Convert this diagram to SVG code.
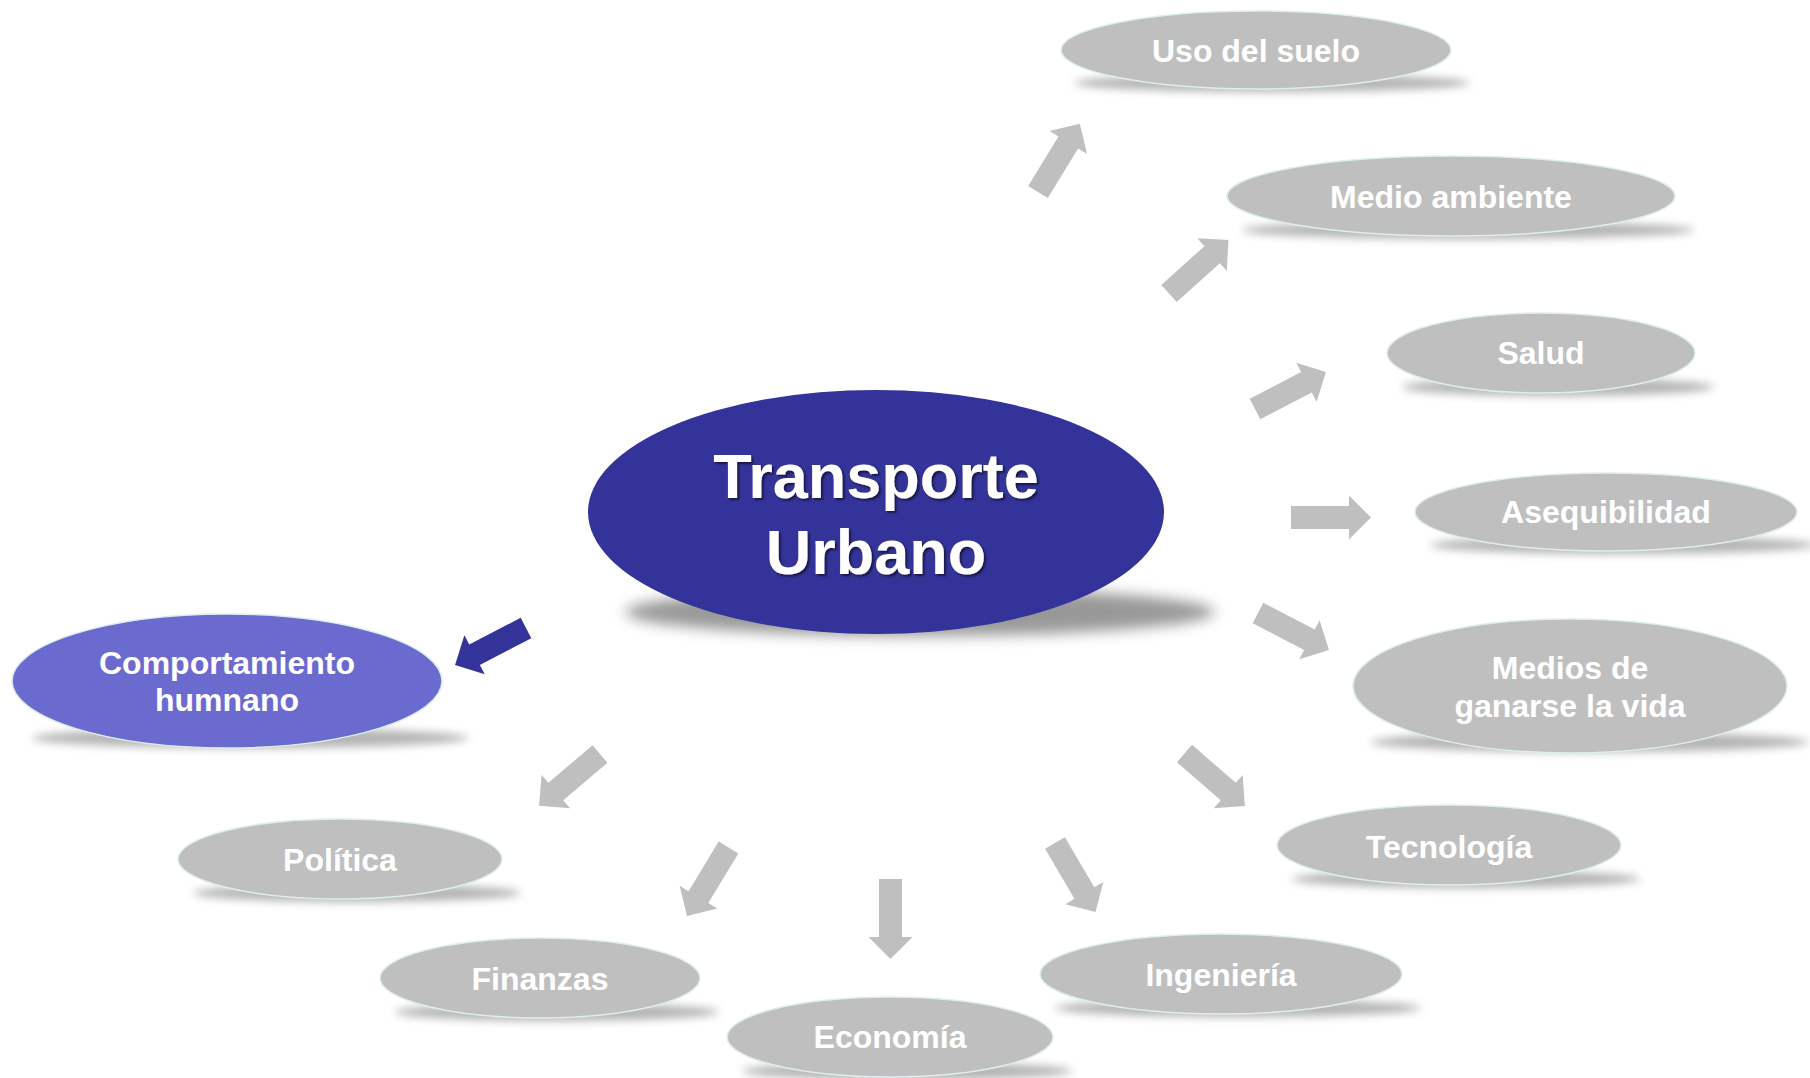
<svg xmlns="http://www.w3.org/2000/svg" xmlns:xlink="http://www.w3.org/1999/xlink" width="1810" height="1078" viewBox="0 0 1810 1078">
<style>
.node{fill:#bfbfbf;stroke:#ddeeee;stroke-width:1.5}
.hnode{fill:#6b6bcf;stroke:#ddeeee;stroke-width:1.5}
.main{fill:#333399}
.shd{fill:#777;opacity:0.55;filter:url(#blur)}
.lbl{font-family:"Liberation Sans",Arial,sans-serif;font-weight:bold;font-size:32px;fill:#ffffff;text-anchor:middle}
.big{font-family:"Liberation Sans",Arial,sans-serif;font-weight:bold;font-size:63px;fill:#ffffff;text-anchor:middle;filter:url(#tshadow)}
.arr{fill:#bfbfbf}
.arrb{fill:#333399}
</style>
<defs>
<filter id="blur" x="-20%" y="-300%" width="140%" height="700%"><feGaussianBlur stdDeviation="4"/></filter>
<filter id="blur2" x="-20%" y="-200%" width="140%" height="500%"><feGaussianBlur stdDeviation="7"/></filter>
<filter id="tshadow" x="-10%" y="-20%" width="120%" height="150%"><feDropShadow dx="2" dy="2" stdDeviation="1.2" flood-color="#000" flood-opacity="0.55"/></filter>
<path id="arrow" d="M0,-11.5 L58,-11.5 L58,-22 L80,0 L58,22 L58,11.5 L0,11.5 Z"/>
</defs>
<rect width="1810" height="1078" fill="#ffffff"/>

<g id="connectors">
<use xlink:href="#arrow" class="arr" transform="translate(1038,192) rotate(-58.5)"/>
<use xlink:href="#arrow" class="arr" transform="translate(1169,293.5) rotate(-42)"/>
<use xlink:href="#arrow" class="arr" transform="translate(1255,409) rotate(-27.5)"/>
<use xlink:href="#arrow" class="arr" transform="translate(1291,517.5)"/>
<use xlink:href="#arrow" class="arr" transform="translate(1258,613) rotate(27.5)"/>
<use xlink:href="#arrow" class="arr" transform="translate(1184.5,753.5) rotate(41)"/>
<use xlink:href="#arrow" class="arr" transform="translate(1055,843) rotate(59.6)"/>
<use xlink:href="#arrow" class="arr" transform="translate(890.5,879) rotate(90)"/>
<use xlink:href="#arrow" class="arr" transform="translate(728.5,847.5) rotate(121.2)"/>
<use xlink:href="#arrow" class="arr" transform="translate(600,754) rotate(139.6)"/>
<use xlink:href="#arrow" class="arrb" transform="translate(526,628) rotate(152.5)"/>
</g>

<g id="center">
<ellipse cx="920" cy="612" rx="295" ry="24" fill="#555" opacity="0.6" filter="url(#blur2)"/>
<ellipse class="main" cx="876" cy="512" rx="288" ry="122"/>
<text class="big" x="876" y="498">Transporte</text>
<text class="big" x="876" y="574">Urbano</text>
</g>

<g id="comportamiento">
<ellipse class="shd" cx="250" cy="738" rx="218" ry="10"/>
<ellipse class="hnode" cx="227" cy="681" rx="215" ry="67"/>
<text class="lbl" x="227" y="674">Comportamiento</text>
<text class="lbl" x="227" y="711">humnano</text>
</g>

<g id="uso">
<ellipse class="shd" cx="1272" cy="83" rx="198" ry="9"/>
<ellipse class="node" cx="1256" cy="50" rx="195" ry="39"/>
<text class="lbl" x="1256" y="62">Uso del suelo</text>
</g>

<g id="medio">
<ellipse class="shd" cx="1468" cy="230" rx="226" ry="9"/>
<ellipse class="node" cx="1451" cy="196" rx="224" ry="40"/>
<text class="lbl" x="1451" y="208">Medio ambiente</text>
</g>

<g id="salud">
<ellipse class="shd" cx="1558" cy="387" rx="156" ry="9"/>
<ellipse class="node" cx="1541" cy="353" rx="154" ry="40"/>
<text class="lbl" x="1541" y="364">Salud</text>
</g>

<g id="asequibilidad">
<ellipse class="shd" cx="1623" cy="545" rx="193" ry="9"/>
<ellipse class="node" cx="1606" cy="512" rx="191" ry="39"/>
<text class="lbl" x="1606" y="523">Asequibilidad</text>
</g>

<g id="medios">
<ellipse class="shd" cx="1590" cy="742" rx="219" ry="10"/>
<ellipse class="node" cx="1570" cy="686" rx="217" ry="67"/>
<text class="lbl" x="1570" y="679">Medios de</text>
<text class="lbl" x="1570" y="717">ganarse la vida</text>
</g>

<g id="tecnologia">
<ellipse class="shd" cx="1466" cy="879" rx="174" ry="9"/>
<ellipse class="node" cx="1449" cy="845" rx="172" ry="40"/>
<text class="lbl" x="1449" y="858">Tecnología</text>
</g>

<g id="ingenieria">
<ellipse class="shd" cx="1238" cy="1008" rx="183" ry="9"/>
<ellipse class="node" cx="1221" cy="974" rx="181" ry="40"/>
<text class="lbl" x="1221" y="986">Ingeniería</text>
</g>

<g id="economia">
<ellipse class="shd" cx="907" cy="1071" rx="165" ry="9"/>
<ellipse class="node" cx="890" cy="1037" rx="163" ry="40"/>
<text class="lbl" x="890" y="1048">Economía</text>
</g>

<g id="finanzas">
<ellipse class="shd" cx="557" cy="1012" rx="162" ry="9"/>
<ellipse class="node" cx="540" cy="978" rx="160" ry="40"/>
<text class="lbl" x="540" y="990">Finanzas</text>
</g>

<g id="politica">
<ellipse class="shd" cx="357" cy="893" rx="164" ry="9"/>
<ellipse class="node" cx="340" cy="859" rx="162" ry="40"/>
<text class="lbl" x="340" y="871">Política</text>
</g>
</svg>
